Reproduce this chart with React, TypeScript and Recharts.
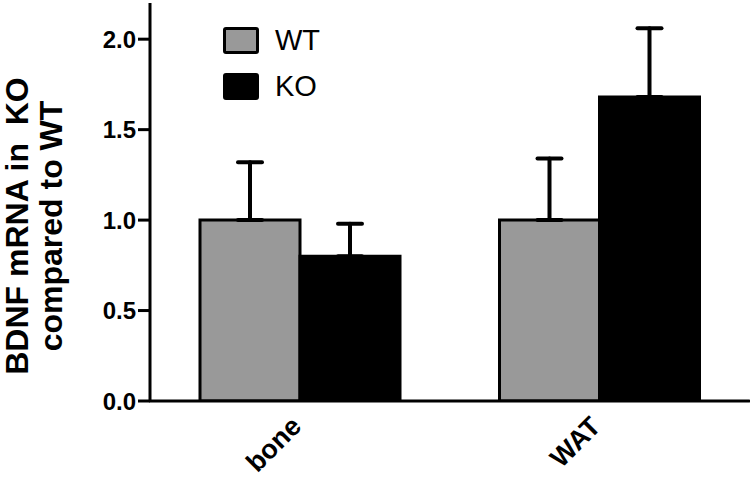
import { BarChart, Bar, XAxis, YAxis, ErrorBar, Legend } from "recharts";

const categories = ["bone", "WAT"];
const seriesNames = ["WT", "KO"];
const wtMean = [1.0, 1.0];
const wtErr = [0.32, 0.34];
const koMean = [0.8, 1.68];
const koErr = [0.18, 0.38];
const yTicks = [0, 0.5, 1.0, 1.5, 2.0];
const yLabelLines = ["BDNF mRNA in  KO", "compared to WT"];

const FONT = '"Liberation Sans", Arial, sans-serif';
const WT_FILL = "#999999";
const KO_FILL = "#000000";

// one-sided (upward) error bars: [low, high]
const data = categories.map((c, i) => ({
  name: c,
  WT: wtMean[i],
  wtErr: [0, wtErr[i]],
  KO: koMean[i],
  koErr: [0, koErr[i]],
}));

function XTick({ x, y, payload }: { x?: number; y?: number; payload?: { value: string } }) {
  const ax = (x ?? 0) + 3;
  const ay = (y ?? 0) + 27;
  return (
    <text
      x={ax}
      y={ay}
      transform={`rotate(-45, ${ax}, ${ay})`}
      textAnchor="end"
      fontFamily={FONT}
      fontWeight="bold"
      fontSize={27}
      fill="#000"
    >
      {payload?.value}
    </text>
  );
}

function YLabel() {
  return (
    <text
      transform="rotate(-90, 28, 226)"
      x={28}
      y={226}
      textAnchor="middle"
      fontFamily={FONT}
      fontWeight="bold"
      fontSize={32}
      fill="#000"
      style={{ whiteSpace: "pre" }}
    >
      <tspan x={28} dy={0}>{yLabelLines[0]}</tspan>
      <tspan x={28} dy={34}>{yLabelLines[1]}</tspan>
    </text>
  );
}

function LegendBox({ payload }: { payload?: Array<{ value: string; color: string }> }) {
  // keep the series order (recharts sorts legend items by name)
  const items = seriesNames
    .map((n) => (payload ?? []).find((p) => p.value === n))
    .filter(Boolean) as Array<{ value: string; color: string }>;
  return (
    <div style={{ position: "relative", width: 120, height: 80 }}>
      {items.map((p, i) => (
        <div
          key={p.value}
          style={{ position: "absolute", left: 0, top: i * 46, display: "flex", alignItems: "center" }}
        >
          <span
            style={{
              display: "inline-block",
              boxSizing: "border-box",
              width: 36,
              height: 27,
              background: p.value === "WT" ? WT_FILL : KO_FILL,
              border: "3px solid #000",
              borderRadius: 3,
            }}
          />
          <span style={{ marginLeft: 16, fontFamily: FONT, fontSize: 29, lineHeight: "27px", color: "#000" }}>
            {p.value}
          </span>
        </div>
      ))}
    </div>
  );
}

export default function App() {
  return (
    <div style={{ position: "absolute", left: 0, top: 0, width: 750, height: 479, background: "#fff" }}>
      <BarChart
        width={750}
        height={479}
        data={data}
        margin={{ top: 3, right: 1, left: 0, bottom: 0 }}
        barCategoryGap={50}
        barGap={0}
      >
        <XAxis
          dataKey="name"
          tickLine={false}
          tickSize={0}
          tickMargin={0}
          axisLine={{ stroke: "#000", strokeWidth: 3, strokeLinecap: "round" }}
          tick={<XTick />}
          height={78}
          interval={0}
        />
        <YAxis
          width={150}
          domain={[0, 2.2]}
          ticks={yTicks}
          allowDataOverflow
          tickFormatter={(v: number) => v.toFixed(1)}
          tick={{ fill: "#000", fontSize: 24, fontWeight: "bold", fontFamily: FONT }}
          tickSize={12}
          tickMargin={2}
          tickLine={{ stroke: "#000", strokeWidth: 3 }}
          axisLine={{ stroke: "#000", strokeWidth: 3 }}
          label={<YLabel />}
        />
        <Legend
          layout="horizontal"
          verticalAlign="middle"
          align="center"
          content={<LegendBox />}
          wrapperStyle={{ left: 223, top: 27, width: 120, height: 80 }}
        />
        <Bar dataKey="WT" fill={WT_FILL} stroke="#000" strokeWidth={3} isAnimationActive={false}>
          <ErrorBar
            dataKey="wtErr"
            width={12}
            stroke="#000"
            strokeWidth={4}
            strokeLinecap="round"
            direction="y"
            isAnimationActive={false}
          />
        </Bar>
        <Bar dataKey="KO" fill={KO_FILL} stroke="#000" strokeWidth={3} isAnimationActive={false}>
          <ErrorBar
            dataKey="koErr"
            width={12}
            stroke="#000"
            strokeWidth={4}
            strokeLinecap="round"
            direction="y"
            isAnimationActive={false}
          />
        </Bar>
      </BarChart>
    </div>
  );
}
